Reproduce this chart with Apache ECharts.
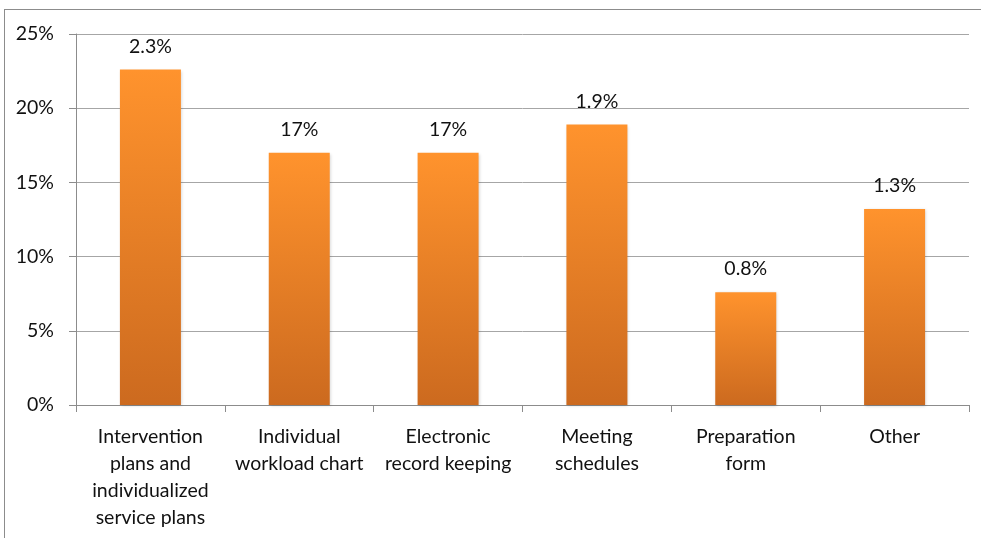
<!DOCTYPE html>
<html>
<head>
<meta charset="utf-8">
<script src="https://cdn.jsdelivr.net/npm/echarts@6/dist/echarts.min.js"></script>
<style>
  html, body { margin: 0; padding: 0; background: #fff; }
  #frame { position: absolute; left: 4px; top: 9px; width: 990px; height: 540px; border: 1.5px solid #8c8c8c; box-sizing: border-box; }
  #chart { position: absolute; left: 0; top: 0; width: 981px; height: 538px; }
</style>
</head>
<body>
<div id="frame"></div>
<div id="chart"></div>
<script>
// Tool usage by category (share of respondents, %)
const categories = [
  'Intervention\nplans and\nindividualized\nservice plans',
  'Individual\nworkload chart',
  'Electronic\nrecord keeping',
  'Meeting\nschedules',
  'Preparation\nform',
  'Other'
];
const shares = [22.6, 17.0, 17.0, 18.9, 7.6, 13.2];
// Data label text as printed above each bar
const barLabels = ['2.3%', '17%', '17%', '1.9%', '0.8%', '1.3%'];
const yTicks = [0, 5, 10, 15, 20, 25];

const chart = echarts.init(document.getElementById('chart'), null, { renderer: 'canvas' });
const fontFamily = 'Lato, "Open Sans", sans-serif';
const fontSize = 19.5;

chart.setOption({
  animation: false,
  backgroundColor: 'transparent',
  grid: { left: 76, right: 12, top: 34, bottom: 133, containLabel: false },
  xAxis: {
    type: 'category',
    data: categories,
    axisLine: { show: true, lineStyle: { color: '#8c8c8c', width: 1 } },
    axisTick: { show: true, length: 7, lineStyle: { color: '#8c8c8c' } },
    axisLabel: {
      interval: 0,
      color: '#111',
      fontFamily: fontFamily,
      fontSize: fontSize,
      lineHeight: 27,
      margin: 18
    }
  },
  yAxis: {
    type: 'value',
    min: yTicks[0],
    max: yTicks[yTicks.length - 1],
    interval: 5,
    axisLine: { show: true, lineStyle: { color: '#8c8c8c', width: 1 } },
    axisTick: { show: true, length: 7, lineStyle: { color: '#8c8c8c' } },
    splitLine: { show: true, lineStyle: { color: '#a6a6a6', width: 1 } },
    axisLabel: {
      formatter: '{value}%',
      color: '#111',
      fontFamily: fontFamily,
      fontSize: fontSize,
      margin: 22
    }
  },
  series: [{
    type: 'bar',
    data: shares,
    barWidth: 61,
    itemStyle: {
      color: new echarts.graphic.LinearGradient(0, 0, 0, 1, [
        { offset: 0, color: '#ff932d' },
        { offset: 1, color: '#cc6a1f' }
      ]),
      shadowColor: 'rgba(0,0,0,0.18)',
      shadowBlur: 3,
      shadowOffsetX: 1,
      shadowOffsetY: 1
    },
    label: {
      show: true,
      position: 'top',
      distance: 13,
      formatter: p => barLabels[p.dataIndex],
      color: '#111',
      fontFamily: fontFamily,
      fontSize: fontSize
    }
  }]
});
</script>
</body>
</html>
